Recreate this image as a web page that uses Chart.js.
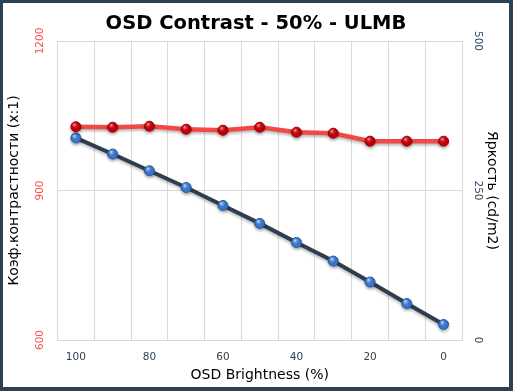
<!DOCTYPE html>
<html>
<head>
<meta charset="utf-8">
<script src="https://cdn.jsdelivr.net/npm/chart.js@4/dist/chart.umd.min.js"></script>
<style>
html,body{margin:0;padding:0;background:#fff;}
#wrap{width:513px;height:391px;box-sizing:border-box;border-style:solid;border-color:#2f4154;border-width:3px 4px 4px 3px;background:#fff;}
canvas{display:block;}
</style>
</head>
<body>
<div id="wrap"><canvas id="c" width="506" height="384"></canvas></div>
<script>
const categories = ['100','90','80','70','60','50','40','30','20','10','0'];
const contrastValues = [1028, 1027, 1029, 1023, 1021, 1027, 1017, 1015, 999, 999, 999];
const brightnessValues = [338, 311, 283, 255, 225, 195, 163, 132, 97, 61, 26];
const leftTicks = [600, 900, 1200];
const rightTicks = [0, 250, 500];
const xTickLabels = ['100','','80','','60','','40','','20','','0'];

const FONT = "'DejaVu Sans', Verdana, sans-serif";

const tickLabelPlugin = {
  id: 'rotTicks',
  afterDraw(chart) {
    const ctx = chart.ctx;
    const defs = [
      {id: 'y', x: 37, rot: -Math.PI / 2, color: '#ff4a4a'},
      {id: 'y1', x: 474.5, rot: Math.PI / 2, color: '#2f4a66'}
    ];
    defs.forEach(d => {
      const s = chart.scales[d.id];
      s.ticks.forEach(t => {
        const y = s.getPixelForValue(t.value);
        ctx.save();
        ctx.translate(d.x, y);
        ctx.rotate(d.rot);
        ctx.font = '10.5px ' + FONT;
        ctx.fillStyle = d.color;
        ctx.textAlign = 'center';
        ctx.textBaseline = 'middle';
        ctx.fillText(String(t.value), 0, 0);
        ctx.restore();
      });
    });
  }
};

const shadePlugin = {
  id: 'shade',
  beforeDatasetDraw(chart, args) {
    const ctx = chart.ctx;
    ctx.save();
    ctx.shadowColor = 'rgba(0,0,0,0.28)';
    ctx.shadowBlur = 3;
    ctx.shadowOffsetY = 2;
  },
  afterDatasetDraw(chart, args) {
    const ctx = chart.ctx;
    ctx.restore();
    const meta = args.meta;
    const hl = args.index === 0 ? ['rgba(255,150,150,0.9)','rgba(200,0,0,0)'] : ['rgba(190,220,255,0.95)','rgba(60,120,210,0)'];
    meta.data.forEach(p => {
      const g = ctx.createRadialGradient(p.x - 1.5, p.y - 2, 0.3, p.x - 1, p.y - 1.5, 4);
      g.addColorStop(0, hl[0]);
      g.addColorStop(1, hl[1]);
      ctx.beginPath();
      ctx.arc(p.x, p.y, 4.5, 0, Math.PI * 2);
      ctx.fillStyle = g;
      ctx.fill();
    });
  }
};

new Chart(document.getElementById('c'), {
  type: 'line',
  data: {
    labels: categories,
    datasets: [
      {
        label: 'Contrast',
        data: contrastValues,
        yAxisID: 'y',
        borderColor: '#f24848',
        borderWidth: 4.5,
        pointRadius: 5,
        pointBackgroundColor: '#c4000a',
        pointBorderColor: '#9a0008',
        pointBorderWidth: 1,
        tension: 0
      },
      {
        label: 'Brightness',
        data: brightnessValues,
        yAxisID: 'y1',
        borderColor: '#2c3e50',
        borderWidth: 4,
        pointRadius: 5,
        pointBackgroundColor: '#3a78cc',
        pointBorderColor: '#2a5a9c',
        pointBorderWidth: 1,
        tension: 0
      }
    ]
  },
  options: {
    responsive: false,
    animation: false,
    events: [],
    layout: {padding: 0},
    plugins: {
      legend: {display: false},
      tooltip: {enabled: false},
      title: {
        display: true,
        text: 'OSD Contrast - 50% - ULMB',
        color: '#000',
        font: {family: FONT, size: 19.5, weight: 'bold', lineHeight: 1.2},
        padding: {top: 9.3, bottom: 5.3}
      }
    },
    scales: {
      x: {
        type: 'category',
        offset: true,
        grid: {color: '#d9d9d9', lineWidth: 1, offset: true, drawTicks: false},
        border: {color: '#d9d9d9'},
        ticks: {
          autoSkip: false, maxRotation: 0, minRotation: 0, padding: 11,
          color: '#2f4154',
          font: {family: FONT, size: 10.5},
          callback: (v, i) => xTickLabels[i]
        },
        title: {
          display: true, text: 'OSD Brightness (%)', color: '#000',
          font: {family: FONT, size: 14, lineHeight: 1.2},
          padding: {top: 0, bottom: 3}
        },
        afterFit(s) { s.height = 47; }
      },
      y: {
        position: 'left',
        min: 600, max: 1200,
        afterBuildTicks(s) { s.ticks = leftTicks.map(v => ({value: v})); },
        grid: {color: '#d9d9d9', lineWidth: 1, drawTicks: false},
        border: {color: '#d9d9d9'},
        ticks: {display: false},
        title: {
          display: true, text: 'Коэф.контрастности (x:1)', color: '#000',
          font: {family: FONT, size: 14, lineHeight: 1.2},
          padding: {top: 3, bottom: 0}
        },
        afterFit(s) { s.width = 54.5; }
      },
      y1: {
        position: 'right',
        min: 0, max: 500,
        afterBuildTicks(s) { s.ticks = rightTicks.map(v => ({value: v})); },
        grid: {drawOnChartArea: false, drawTicks: false},
        border: {color: '#d9d9d9'},
        ticks: {display: false},
        title: {
          display: true, text: 'Яркость (cd/m2)', color: '#000',
          font: {family: FONT, size: 14, lineHeight: 1.2},
          padding: {top: 9, bottom: 0}
        },
        afterFit(s) { s.width = 47; }
      }
    }
  },
  plugins: [tickLabelPlugin, shadePlugin]
});
</script>
</body>
</html>
